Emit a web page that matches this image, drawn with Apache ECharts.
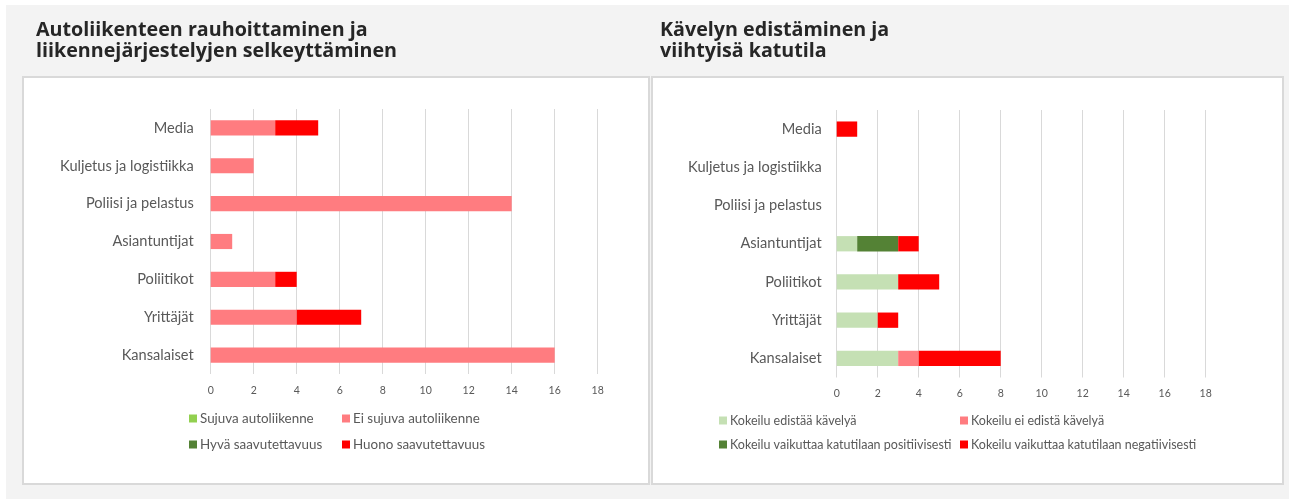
<!DOCTYPE html>
<html>
<head>
<meta charset="utf-8">
<script src="https://cdn.jsdelivr.net/npm/echarts@6/dist/echarts.min.js"></script>
<style>
html,body{margin:0;padding:0;background:#ffffff;}
#c{width:1290px;height:499px;}
</style>
</head>
<body>
<div id="c"></div>
<script>
// Categories (bottom to top, as ECharts category axis goes upward)
const categories = ['Kansalaiset', 'Yrittäjät', 'Poliitikot', 'Asiantuntijat', 'Poliisi ja pelastus', 'Kuljetus ja logistiikka', 'Media'];
const xTicks = [0, 2, 4, 6, 8, 10, 12, 14, 16, 18];

// Left chart: Autoliikenteen rauhoittaminen
const leftTitle = 'Autoliikenteen rauhoittaminen ja\nliikennejärjestelyjen selkeyttäminen';
const leftNames = ['Sujuva autoliikenne', 'Ei sujuva autoliikenne', 'Hyvä saavutettavuus', 'Huono saavutettavuus'];
const sujuva      = [0, 0, 0, 0, 0, 0, 0];
const eiSujuva    = [16, 4, 3, 1, 14, 2, 3];
const hyvaSaav    = [0, 0, 0, 0, 0, 0, 0];
const huonoSaav   = [0, 3, 1, 0, 0, 0, 2];

// Right chart: Kävelyn edistäminen
const rightTitle = 'Kävelyn edistäminen ja\nviihtyisä katutila';
const rightNames = ['Kokeilu edistää kävelyä', 'Kokeilu ei edistä kävelyä', 'Kokeilu vaikuttaa katutilaan positiivisesti', 'Kokeilu vaikuttaa katutilaan negatiivisesti'];
const edistaa     = [3, 2, 3, 1, 0, 0, 0];
const eiEdista    = [1, 0, 0, 0, 0, 0, 0];
const positiivis  = [0, 0, 0, 2, 0, 0, 0];
const negatiivis  = [4, 1, 2, 1, 0, 0, 1];

const colors = ['#92d050', '#ff7c80', '#548235', '#ff0000'];
const rightColors = ['#c5e0b4', '#ff7c80', '#548235', '#ff0000'];

const FONT = 'Lato, "Open Sans", sans-serif';
const GREY = '#595959';

function mkAxes(idx, margin) {
  return {
    x: {
      type: 'value', gridIndex: idx, min: xTicks[0], max: xTicks[xTicks.length - 1], interval: 2,
      axisLine: {show: false}, axisTick: {show: false},
      splitLine: {show: true, lineStyle: {color: '#d9d9d9', width: 1}},
      axisLabel: {color: GREY, fontSize: 10.5, fontFamily: FONT, margin: 11}
    },
    y: {
      type: 'category', gridIndex: idx, data: categories,
      axisLine: {show: false}, axisTick: {show: false},
      axisLabel: {color: GREY, fontSize: 14.6, fontFamily: FONT, margin: margin}
    }
  };
}
const a0 = mkAxes(0, 17), a1 = mkAxes(1, 15);

function mkSeries(names, arrays, cols, idx, stack) {
  return names.map((n, i) => ({
    name: n, type: 'bar', stack: stack, xAxisIndex: idx, yAxisIndex: idx,
    data: arrays[i], barCategoryGap: '60%',
    itemStyle: {color: cols[i]}, emphasis: {disabled: true}
  }));
}

const series = [
  ...mkSeries(leftNames, [sujuva, eiSujuva, hyvaSaav, huonoSaav], colors, 0, 'L'),
  ...mkSeries(rightNames, [edistaa, eiEdista, positiivis, negatiivis], rightColors, 1, 'R')
];

function legendItem(name, left, top, fs) {
  return {
    data: [name], left: left, top: top, orient: 'horizontal',
    icon: 'rect', itemWidth: 8, itemHeight: 8, itemGap: 0, padding: 0,
    selectedMode: false,
    textStyle: {color: GREY, fontSize: fs, fontFamily: FONT, padding: [0, 0, 0, -2]}
  };
}

const legends = [
  legendItem(leftNames[0], 189, 412, 13.4),
  legendItem(leftNames[1], 342, 412, 13.4),
  legendItem(leftNames[2], 189, 438, 13.4),
  legendItem(leftNames[3], 342, 438, 13.4),
  legendItem(rightNames[0], 719, 414, 12.5),
  legendItem(rightNames[1], 960, 414, 12.5),
  legendItem(rightNames[2], 719, 438, 12.5),
  legendItem(rightNames[3], 960, 438, 12.5)
];

const titleStyle = {fontFamily: '"Open Sans", sans-serif', fontWeight: 'bold', fontSize: 19.7, lineHeight: 21, color: '#262626'};

const chart = echarts.init(document.getElementById('c'), null, {renderer: 'canvas'});
chart.setOption({
  animation: false,
  backgroundColor: '#ffffff',
  color: colors,
  title: [
    {text: leftTitle, left: 36, top: 20, padding: 0, textStyle: titleStyle},
    {text: rightTitle, left: 660, top: 20, padding: 0, textStyle: titleStyle}
  ],
  graphic: [
    {type: 'rect', z: -100, shape: {x: 6, y: 5, width: 1283, height: 494}, style: {fill: '#f3f3f3'}},
    {type: 'rect', z: -90, shape: {x: 23, y: 77, width: 626, height: 407}, style: {fill: '#ffffff', stroke: '#d9d9d9', lineWidth: 2}},
    {type: 'rect', z: -90, shape: {x: 652, y: 77, width: 631, height: 407}, style: {fill: '#ffffff', stroke: '#d9d9d9', lineWidth: 2}}
  ],
  legend: legends,
  grid: [
    {left: 210.7, width: 387, top: 109, height: 265},
    {left: 836.7, width: 369, top: 110, height: 267.5}
  ],
  xAxis: [a0.x, a1.x],
  yAxis: [a0.y, a1.y],
  series: series
});
</script>
</body>
</html>
